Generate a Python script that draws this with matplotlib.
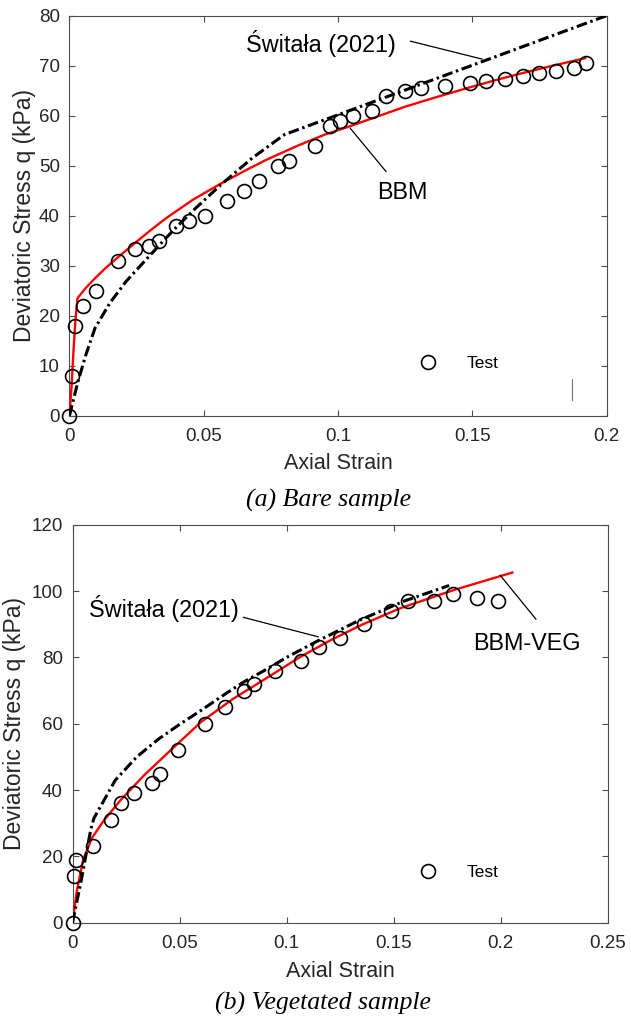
import matplotlib
matplotlib.use('Agg')
import matplotlib.pyplot as plt
from matplotlib.ticker import FormatStrFormatter, FuncFormatter

plt.rcParams['font.family'] = ['Liberation Sans', 'DejaVu Sans']

# ---------------- (a) bare sample ----------------
bare_test_strain = [0, 0.001, 0.002, 0.005, 0.010, 0.018, 0.0243, 0.0295, 0.0333, 0.0398,
                    0.0445, 0.0506, 0.0585, 0.0648, 0.0706, 0.0777, 0.0818, 0.0914, 0.097,
                    0.1007, 0.1056, 0.1127, 0.1179, 0.125, 0.131, 0.140, 0.149, 0.155,
                    0.162, 0.169, 0.175, 0.181, 0.188, 0.1925]
bare_test_q = [0, 8, 18, 22, 25, 31, 33.3, 34, 35, 38,
               39, 40, 43, 45, 47, 50, 51, 54, 58,
               59, 60, 61, 64, 65, 65.5, 66, 66.5, 67,
               67.4, 68, 68.5, 69, 69.5, 70.5]

bare_bbm_strain = [0, 0.0008, 0.0015, 0.0022, 0.003, 0.006, 0.009, 0.013, 0.017, 0.021,
                   0.025, 0.030, 0.036, 0.046, 0.056, 0.065, 0.0734, 0.085, 0.095, 0.1045,
                   0.115, 0.125, 0.136, 0.148, 0.160, 0.170, 0.180, 0.192]
bare_bbm_q = [0, 6, 13, 19, 23.5, 25.5, 27.2, 29.3, 31.2, 33,
              34.8, 37, 39.5, 43.2, 46.3, 48.9, 51.2, 54, 56.2, 57.9,
              59.9, 61.8, 63.6, 65.5, 67.3, 68.7, 70, 71.5]

bare_sw_strain = [0, 0.003, 0.006, 0.0095, 0.015, 0.021, 0.029, 0.035, 0.040, 0.047,
                  0.056, 0.068, 0.080, 0.2]
bare_sw_q = [0, 6.5, 12, 17.5, 22.5, 26.8, 31.5, 35, 37.8, 41.5,
             46, 51.5, 56.2, 80]

# ---------------- (b) vegetated sample ----------------
veg_test_strain = [0, 0.0005, 0.0016, 0.0096, 0.0178, 0.0227, 0.0288, 0.0371, 0.0409, 0.0491,
                   0.0618, 0.0712, 0.080, 0.085, 0.0948, 0.107, 0.115, 0.125, 0.136, 0.149,
                   0.157, 0.169, 0.178, 0.189, 0.199]
veg_test_q = [0, 14, 19, 23, 31, 36, 39, 42, 45, 52,
              60, 65, 70, 72, 76, 79, 83, 86, 90, 94,
              97, 97, 99, 98, 97]

veg_bbm_strain = [0, 0.002, 0.005, 0.009, 0.0146, 0.0225, 0.0335, 0.045, 0.060, 0.075,
                  0.090, 0.106, 0.120, 0.135, 0.153, 0.178, 0.2055]
veg_bbm_q = [0, 9.5, 19, 25.5, 30.8, 37, 44.5, 51.5, 60.5, 67.5,
             73.5, 80, 85, 89.8, 94.8, 100.3, 105.6]

veg_sw_strain = [0, 0.004, 0.0085, 0.010, 0.020, 0.030, 0.040, 0.050, 0.060, 0.070,
                 0.080, 0.090, 0.100, 0.114, 0.134, 0.155, 0.176]
veg_sw_q = [0, 12.5, 28, 31.5, 43, 50, 55.3, 59.8, 64, 68.4,
            72.6, 76.2, 80, 84.8, 91.2, 97, 101.7]

# annotation labels: (text, text x, text baseline y, leader start, leader end)
bare_notes = [('Świtała (2021)', 0.0938, 72.7, (0.1269, 74.9), (0.1537, 71.3)),
              ('BBM', 0.1238, 43.3, (0.1179, 48.8), (0.1045, 57.5))]
veg_notes = [('Świtała (2021)', 0.0426, 92.3, (0.0798, 92.1), (0.1149, 86.2)),
             ('BBM-VEG', 0.2122, 82.2, (0.1998, 104.8), (0.2166, 91.5))]

tick_col = '#262626'
spine_col = '#4d4d4d'
sw_dash = (3.5, 1.2, 0.8, 1.2)


def style_axes(ax, xmax, ymax, xstep, ystep, ylabelpad):
    ax.set_xlim(0, xmax)
    ax.set_ylim(0, ymax)
    ax.set_xticks([i * xstep for i in range(int(round(xmax / xstep)) + 1)])
    ax.set_yticks([i * ystep for i in range(int(round(ymax / ystep)) + 1)])
    ax.xaxis.set_major_formatter(FuncFormatter(lambda v, p: '%g' % round(v, 4)))
    ax.yaxis.set_major_formatter(FormatStrFormatter('%g'))
    ax.tick_params(direction='in', top=True, right=True, length=4, width=0.8,
                   labelsize=13.5, labelcolor=tick_col, color=spine_col)
    ax.tick_params(axis='x', pad=9)
    ax.tick_params(axis='y', pad=7)
    for s in ax.spines.values():
        s.set_color(spine_col)
        s.set_linewidth(0.8)
    ax.set_xlabel('Axial Strain', fontsize=15.5, color=tick_col, labelpad=6)
    ax.set_ylabel('Deviatoric Stress q (kPa)', fontsize=16.5, color=tick_col,
                  labelpad=ylabelpad)


def draw_panel(ax, test_x, test_y, bbm_x, bbm_y, sw_x, sw_y, notes, leg_anchor):
    ax.plot(bbm_x, bbm_y, color='#ff0000', lw=1.7, zorder=3)
    ax.plot(sw_x, sw_y, color='black', lw=2.2, dashes=sw_dash, zorder=3)
    ax.plot(test_x, test_y, 'o', mfc='none', mec='black', ms=10, mew=1.2,
            label='Test', zorder=4, clip_on=False)
    for txt, tx, ty, p0, p1 in notes:
        ax.text(tx, ty, txt, ha='center', va='baseline', fontsize=16.8, color='black')
        ax.annotate('', xy=p1, xytext=p0,
                    arrowprops=dict(arrowstyle='-', color='black', lw=0.9,
                                    shrinkA=0, shrinkB=0))
    ax.legend(loc='center left', bbox_to_anchor=leg_anchor, frameon=False,
              fontsize=12.5, handlelength=2, handletextpad=1.2, borderpad=0,
              borderaxespad=0)


fig = plt.figure(figsize=(6.31, 10.23), dpi=100)

ax1 = fig.add_axes([0.1101, 0.5937, 0.8513, 0.3910])
draw_panel(ax1, bare_test_strain, bare_test_q, bare_bbm_strain, bare_bbm_q,
           bare_sw_strain, bare_sw_q, bare_notes, (0.636, 0.131))
style_axes(ax1, 0.2, 80, 0.05, 10, 2)
# leftover legend-box stroke visible in the original figure
ax1.axvline(0.1872, ymin=0.039, ymax=0.092, color='#777777', lw=0.8)

ax2 = fig.add_axes([0.1149, 0.0980, 0.8479, 0.3890])
draw_panel(ax2, veg_test_strain, veg_test_q, veg_bbm_strain, veg_bbm_q,
           veg_sw_strain, veg_sw_q, veg_notes, (0.632, 0.127))
style_axes(ax2, 0.25, 120, 0.05, 20, 4)

fig.text(329 / 631, 1 - 500 / 1023, '(a) Bare sample', ha='center', va='center',
         fontsize=18.5, style='italic', family='Liberation Serif')
fig.text(323 / 631, 1 - 1003 / 1023, '(b) Vegetated sample', ha='center', va='center',
         fontsize=18.5, style='italic', family='Liberation Serif')

fig.savefig('out.png', dpi=100)
